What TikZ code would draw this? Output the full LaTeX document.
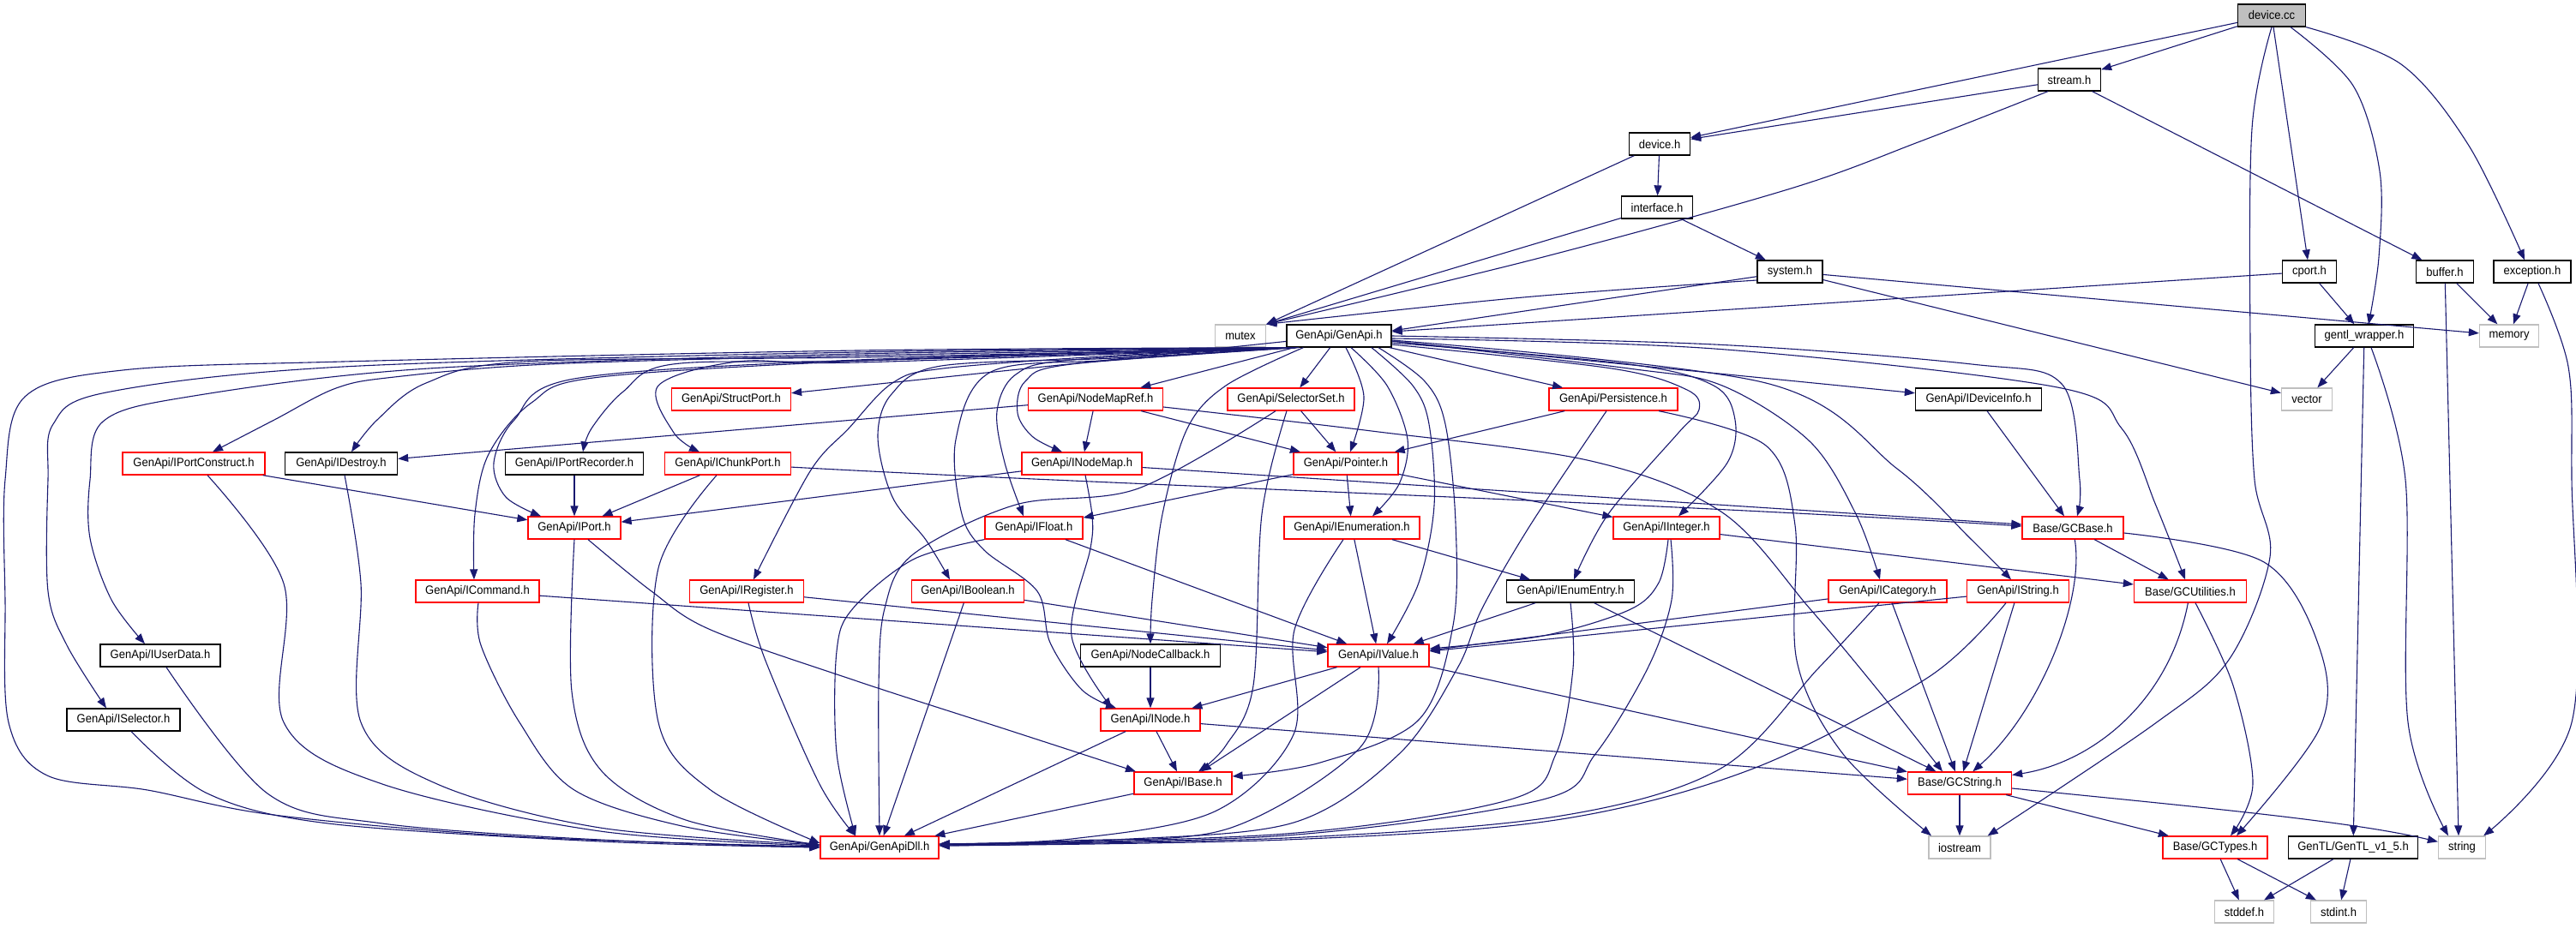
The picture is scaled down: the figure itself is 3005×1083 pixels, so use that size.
\documentclass[tikz,border=0pt]{standalone}
\usepackage{fontspec}
\setmainfont{Liberation Sans}[FakeStretch=0.93]
\usetikzlibrary{arrows.meta}
\definecolor{gvblue}{HTML}{191970}
\definecolor{gvred}{HTML}{FF0000}
\definecolor{gvgray}{HTML}{BFBFBF}
\newcommand\dgfont{\fontsize{14pt}{16pt}\selectfont}
\begin{document}
\begin{tikzpicture}[x=1pt,y=-1pt,
  nb/.style={draw=black, line width=1.3pt, minimum height=26pt, inner xsep=1pt, inner ysep=0pt, font=\dgfont, fill=white},
  nr/.style={nb, draw=gvred},
  ng/.style={nb, draw=gvgray},
  e/.style={draw=gvblue, line width=1.1pt, -{Triangle[length=12pt,width=9pt]}},
  sm/.style={smooth, tension=0.55}]
\fill[white] (0,0) rectangle (3005,1083);
\useasboundingbox (0,0) rectangle (3005,1083);
% nodes
\node[nb,fill=gvgray,minimum width=79pt] (dcc) at (2650,18) {device.cc};
\node[nb,minimum width=73pt] (stream) at (2414,93) {stream.h};
\node[nb,minimum width=71pt] (deviceh) at (1936,168) {device.h};
\node[nb,minimum width=83pt] (interface) at (1933,242) {interface.h};
\node[nb,minimum width=76pt] (system) at (2088,317) {system.h};
\node[nb,minimum width=63pt] (cport) at (2694,317) {cport.h};
\node[nb,minimum width=67pt] (buffer) at (2852,317) {buffer.h};
\node[nb,minimum width=90pt] (exception) at (2954,317) {exception.h};
\node[ng,minimum width=59pt] (mutex) at (1447,392) {mutex};
\node[nb,minimum width=122pt] (genapi) at (1562,392) {GenApi/GenApi.h};
\node[nb,minimum width=115pt] (gentlw) at (2758,392) {gentl\_wrapper.h};
\node[ng,minimum width=69pt] (memory) at (2927,392) {memory};
\node[nr,minimum width=139pt] (structport) at (853,466) {GenApi/StructPort.h};
\node[nr,minimum width=157pt] (nodemapref) at (1278,466) {GenApi/NodeMapRef.h};
\node[nr,minimum width=148pt] (selectorset) at (1506,466) {GenApi/SelectorSet.h};
\node[nr,minimum width=150pt] (persistence) at (1882,466) {GenApi/Persistence.h};
\node[nb,minimum width=147pt] (ideviceinfo) at (2308,466) {GenApi/IDeviceInfo.h};
\node[ng,minimum width=59pt] (vector) at (2691,466) {vector};
\node[nr,minimum width=166pt] (iportconstruct) at (226,541) {GenApi/IPortConstruct.h};
\node[nb,minimum width=131pt] (idestroy) at (398,541) {GenApi/IDestroy.h};
\node[nb,minimum width=161pt] (iportrecorder) at (670,541) {GenApi/IPortRecorder.h};
\node[nr,minimum width=147pt] (ichunkport) at (849,541) {GenApi/IChunkPort.h};
\node[nr,minimum width=140pt] (inodemap) at (1262,541) {GenApi/INodeMap.h};
\node[nr,minimum width=122pt] (pointer) at (1570,541) {GenApi/Pointer.h};
\node[nr,minimum width=108pt] (iport) at (670,616) {GenApi/IPort.h};
\node[nr,minimum width=114pt] (ifloat) at (1206,616) {GenApi/IFloat.h};
\node[nr,minimum width=158pt] (ienumeration) at (1577,616) {GenApi/IEnumeration.h};
\node[nr,minimum width=124pt] (iinteger) at (1944,616) {GenApi/IInteger.h};
\node[nr,minimum width=118pt] (gcbase) at (2418,616) {Base/GCBase.h};
\node[nr,minimum width=144pt] (icommand) at (557,690) {GenApi/ICommand.h};
\node[nr,minimum width=133pt] (iregister) at (871,690) {GenApi/IRegister.h};
\node[nr,minimum width=131pt] (iboolean) at (1129,690) {GenApi/IBoolean.h};
\node[nb,minimum width=149pt] (ienumentry) at (1832,690) {GenApi/IEnumEntry.h};
\node[nr,minimum width=138pt] (icategory) at (2202,690) {GenApi/ICategory.h};
\node[nr,minimum width=119pt] (istring) at (2354,690) {GenApi/IString.h};
\node[nr,minimum width=131pt] (gcutilities) at (2555,690) {Base/GCUtilities.h};
\node[nb,minimum width=140pt] (iuserdata) at (187,765) {GenApi/IUserData.h};
\node[nb,minimum width=163pt] (nodecallback) at (1342,765) {GenApi/NodeCallback.h};
\node[nr,minimum width=118pt] (ivalue) at (1608,765) {GenApi/IValue.h};
\node[nb,minimum width=132pt] (iselector) at (144,840) {GenApi/ISelector.h};
\node[nr,minimum width=116pt] (inode) at (1342,840) {GenApi/INode.h};
\node[nr,minimum width=114pt] (ibase) at (1380,914) {GenApi/IBase.h};
\node[nr,minimum width=121pt] (gcstring) at (2286,914) {Base/GCString.h};
\node[nr,minimum width=138pt] (genapidll) at (1026,989) {GenApi/GenApiDll.h};
\node[ng,minimum width=72pt] (iostream) at (2286,989) {iostream};
\node[nr,minimum width=122pt] (gctypes) at (2584,989) {Base/GCTypes.h};
\node[nb,minimum width=151pt] (gentl15) at (2745,989) {GenTL/GenTL\_v1\_5.h};
\node[ng,minimum width=55pt] (string) at (2872,989) {string};
\node[ng,minimum width=69pt] (stddef) at (2618,1064) {stddef.h};
\node[ng,minimum width=65pt] (stdint) at (2728,1064) {stdint.h};

% ---- straight edges
\draw[e] (dcc) -- (stream);
\draw[e] (dcc) -- (deviceh);
\draw[e] (dcc) -- (cport);
\draw[e] (stream) -- (deviceh);
\draw[e] plot[sm] coordinates {([xshift=-25pt]stream.south) (2240,165) (2089,220) (1800,300) (mutex.north east)};
\draw[e] (stream) -- (buffer);
\draw[e] (deviceh) -- (interface);
\draw[e] (deviceh) -- (mutex.north east);
\draw[e] (interface) -- (mutex.north east);
\draw[e] (interface) -- (system);
\draw[e] (system) -- ([yshift=6pt]genapi.east);
\draw[e] (system) -- (memory);
\draw[e] (system) -- (vector);
\draw[e] (cport) -- ([yshift=5pt]genapi.east);
\draw[e] (cport) -- (gentlw);
\draw[e] (buffer) -- (memory);
\draw[e] (buffer) -- ([xshift=-4pt]string.north);
\draw[e] (exception) -- (memory);
\draw[e] (gentlw) -- (vector);
\draw[e] (gentlw) -- (gentl15);
\draw[e] (gentl15) -- (stddef);
\draw[e] (gentl15) -- (stdint);
\draw[e] (gctypes) -- (stddef);
\draw[e] (gctypes) -- (stdint);
\draw[e] (gcstring) -- (iostream);
\draw[e] (gcstring) -- (gctypes);
\draw[e] (gcbase) -- (gcutilities);
\draw[e] (icategory) -- ([yshift=6pt]ivalue.east);
\draw[e] (icategory) -- (gcstring);
\draw[e] (istring) -- ([yshift=5pt]ivalue.east);
\draw[e] (istring) -- (gcstring);
\draw[e] (iinteger) -- (gcutilities);
\draw[e] (ienumentry) -- (ivalue);
\draw[e] (ienumentry) -- (gcstring);
\draw[e] (ienumeration) -- (ivalue);
\draw[e] (ienumeration) -- (ienumentry);
\draw[e] (pointer) -- (ifloat);
\draw[e] (pointer) -- (ienumeration);
\draw[e] (pointer) -- (iinteger);
\draw[e] (ifloat) -- (ivalue);
\draw[e] (iboolean) -- (ivalue);
\draw[e] (iboolean) -- (genapidll);
\draw[e] (icommand) -- (ivalue);
\draw[e] (iregister) -- (ivalue);
\draw[e] (iportconstruct) -- (iport);
\draw[e] (iportrecorder) -- (iport);
\draw[e] (ichunkport) -- (iport);
\draw[e] (inodemap) -- (iport);
\draw[e] (inodemap) -- ([yshift=4pt]gcbase.west);
\draw[e] (ichunkport) .. controls (1300,566) and (1900,585) .. ([yshift=2pt]gcbase.west);
\draw[e] (nodemapref) -- (idestroy);
\draw[e] (nodemapref) -- (inodemap);
\draw[e] (nodemapref) -- (pointer);
\draw[e] (selectorset) -- (pointer);
\draw[e] (persistence) -- (pointer);
\draw[e] (ideviceinfo) -- (gcbase);
\draw[e] (ivalue) -- (inode);
\draw[e] (ivalue) -- (ibase);
\draw[e] (ivalue) -- (gcstring);
\draw[e] (nodecallback) -- (inode);
\draw[e] (inode) -- (ibase);
\draw[e] (inode) -- (genapidll);
\draw[e] (inode) -- (gcstring);
\draw[e] (ibase) -- (genapidll);
\draw[e] (genapi) -- (nodemapref);
\draw[e] (genapi) -- (selectorset);
\draw[e] (genapi) -- (persistence);
\draw[e] (genapi) -- (ideviceinfo);
\draw[e] (genapi) -- (structport);
\draw[e] (gcstring) .. controls (2600,945) and (2750,960) .. (string);

% ---- curved edges (upper right)
\draw[e] plot[sm] coordinates {(dcc.south) (2627,150) (2625,400) (2630,560) (2648,650) (2600,770) (2513,845) ([xshift=-4pt]iostream.north east)};
\draw[e] plot[sm] coordinates {([xshift=22pt]dcc.south) (2745,100) (2776,200) (2775,300) ([xshift=5pt]gentlw.north)};
\draw[e] plot[sm] coordinates {(dcc.south east) (2801,75) (2880,170) ([xshift=-9pt]exception.north)};
\draw[e] plot[sm] coordinates {([yshift=-10pt]system.west) (1777,347) (mutex.north east)};
\draw[e] plot[sm] coordinates {([xshift=7pt]exception.south) (2996,428) (3000,560) (3000,843) ([xshift=-3pt]string.north east)};
\draw[e] plot[sm] coordinates {([xshift=8pt]gentlw.south) (2806,560) (2809,843) ([xshift=-16pt]string.north)};
\draw[e] (gcbase) .. controls (2432,700) and (2380,830) .. (gcstring);
\draw[e] plot[sm] coordinates {([yshift=-6pt]gcbase.east) (2641,656) (2706,757) (2706,850) ([xshift=25pt]gctypes.north)};
\draw[e] (gcutilities) .. controls (2530,820) and (2440,890) .. (gcstring);
\draw[e] plot[sm] coordinates {([xshift=6pt]gcutilities.south) (2605,800) (2628,915) ([xshift=18pt]gctypes.north)};

% ---- GenApi.h fan to the right
\draw[e] plot[sm] coordinates {(genapi.east) (2000,402) (2300,425) (2405,448) (2426,560) ([xshift=5pt]gcbase.north)};
\draw[e] plot[sm] coordinates {([yshift=-3pt]genapi.east) (2000,407) (2400,452) (2475,500) (2515,590) ([xshift=-6pt]gcutilities.north)};
\draw[e] plot[sm] coordinates {([yshift=-6pt]genapi.east) (1900,430) (2009,450) (2111,515) (2165,600) ([xshift=-9pt]icategory.north)};
\draw[e] plot[sm] coordinates {([yshift=-5pt]genapi.east) (2060,447) (2213,547) (2300,630) ([xshift=-8pt]istring.north)};
\draw[e] plot[sm] coordinates {([yshift=-8pt]genapi.east) (1900,425) (1999,450) (2024,490) (2015,540) ([xshift=14pt]iinteger.north)};
\draw[e] plot[sm] coordinates {([yshift=-10pt]genapi.east) (1880,430) (1968,455) (1982,478) (1958,505) (1876,600) ([xshift=4pt]ienumentry.north)};
\draw[e] plot[sm] coordinates {([xshift=8pt]genapi.south) (1591,463) ([xshift=5pt]pointer.north)};
\draw[e] plot[sm] coordinates {([xshift=14pt]genapi.south) (1618,450) (1642,513) (1632,565) ([xshift=24pt]ienumeration.north)};
\draw[e] plot[sm] coordinates {([xshift=38pt]genapi.south) (1648,450) (1667,495) (1673,590) (1655,680) ([xshift=10pt]ivalue.north)};
\draw[e] plot[sm] coordinates {([xshift=46pt]genapi.south) (1662,445) (1686,495) (1698,610) (1695,730) (1655,840) (1540,890) ([yshift=8pt]ibase.east)};

% ---- GenApi.h fan to the left
\draw[e] plot[sm] coordinates {(genapi.south west) (1000,409) (400,422) (143,432) (29,463) (6,560) (6,700) (10,843) (55,905) (172,922) (319,951) (600,976) (genapidll.west)};
\draw[e] plot[sm] coordinates {([xshift=3pt]genapi.south west) (1000,411) (400,428) (124,458) (62,495) (56,560) (56,690) (78,753) ([xshift=-20pt]iselector.north)};
\draw[e] plot[sm] coordinates {([xshift=6pt]genapi.south west) (1000,413) (500,430) (220,463) (120,492) (105,560) (105,628) (130,700) ([xshift=-18pt]iuserdata.north)};
\draw[e] plot[sm] coordinates {([xshift=9pt]genapi.south west) (1000,415) (640,425) (460,440) (392,453) (320,490) ([xshift=22pt]iportconstruct.north)};
\draw[e] plot[sm] coordinates {([xshift=12pt]genapi.south west) (1000,417) (612,422) (497,447) (440,490) ([xshift=12pt]idestroy.north)};
\draw[e] plot[sm] coordinates {([xshift=12pt]genapi.south west) (1052,419) (700,440) (620,470) (570,530) (554,600) ([xshift=-4pt]icommand.north)};
\draw[e] plot[sm] coordinates {([xshift=12pt]genapi.south west) (1000,420) (670,442) (600,490) (576,540) (590,580) ([xshift=-39pt]iport.north)};
\draw[e] plot[sm] coordinates {([xshift=12pt]genapi.south west) (1000,421) (785,425) (727,457) (690,500) ([xshift=10pt]iportrecorder.north)};
\draw[e] plot[sm] coordinates {([xshift=12pt]genapi.south west) (1000,423) (861,422) (768,450) (786,505) ([xshift=-33pt]ichunkport.north)};
\draw[e] plot[sm] coordinates {([xshift=4pt]genapi.south west) (1300,415) (1100,430) (1041,447) (990,500) (945,550) ([xshift=8pt]iregister.north)};
\draw[e] plot[sm] coordinates {([xshift=5pt]genapi.south west) (1300,418) (1098,427) (1040,460) (1024,510) (1041,580) (1080,630) ([xshift=-21pt]iboolean.north)};
\draw[e] plot[sm] coordinates {([xshift=10pt]genapi.south west) (1250,420) (1185,437) (1163,480) (1172,540) ([xshift=-12pt]ifloat.north)};
\draw[e] plot[sm] coordinates {([xshift=15pt]genapi.south west) (1250,425) (1196,445) (1187,482) (1205,510) ([xshift=-23pt]inodemap.north)};
\draw[e] plot[sm] coordinates {([xshift=8pt]genapi.south west) (1300,420) (1156,434) (1115,513) (1122,600) (1148,642) (1210,690) (1225,750) (1262,805) ([xshift=-40pt]inode.north)};
\draw[e] plot[sm] coordinates {([xshift=20pt]genapi.south west) (1430,450) (1385,500) (1356,600) (1344,700) (nodecallback.north)};

% ---- middle curves
\draw[e] plot[sm] coordinates {([yshift=-9pt]nodemapref.east) (1600,503) (1856,538) (2009,598) (2111,710) (2192,807) ([xshift=-20pt]gcstring.north)};
\draw[e] plot[sm] coordinates {([xshift=-8pt]persistence.south) (1785,613) (1729,710) (1700,780) (1632,880) (1509,960) (1300,980) ([yshift=4pt]genapidll.east)};
\draw[e] plot[sm] coordinates {([xshift=53pt]persistence.south) (2060,520) (2094,613) (2096,771) (2150,880) ([xshift=-33pt]iostream.north)};
\draw[e] plot[sm] coordinates {([xshift=-18pt]selectorset.south) (1328,570) (1185,589) (1065,647) (1032,710) (1025,800) (genapidll.north)};
\draw[e] plot[sm] coordinates {([xshift=-5pt]selectorset.south) (1472,600) (1462,800) (1430,870) ([xshift=18pt]ibase.north)};
\draw[e] plot[sm] coordinates {([xshift=16pt]iport.south) (760,690) (829,735) (1000,795) (1170,850) ([xshift=-55pt]ibase.north)};
\draw[e] plot[sm] coordinates {(ifloat.south west) (1065,653) (995,710) (976,760) (976,879) ([xshift=-28pt]genapidll.north)};
\draw[e] plot[sm] coordinates {([xshift=4pt]inodemap.south) (1274,602) (1272,640) (1250,742) ([xshift=-45pt]inode.north)};
\draw[e] plot[sm] coordinates {([xshift=2pt]iinteger.south) (1935,680) (1900,712) (1800,742) ([yshift=8pt]ivalue.east)};

% ---- into GenApiDll from the right
\draw[e] plot[sm] coordinates {([xshift=-10pt]ienumeration.south) (1510,735) (1509,857) (1417,947) (1250,979) ([yshift=4pt]genapidll.east)};
\draw[e] plot[sm] coordinates {(ivalue.south) (1586,873) (1433,967) (1250,981) ([yshift=4pt]genapidll.east)};
\draw[e] plot[sm] coordinates {([xshift=5pt]iinteger.south) (1950,700) (1922,780) (1861,880) (1800,933) (1500,975) ([yshift=3pt]genapidll.east)};
\draw[e] plot[sm] coordinates {(ienumentry.south) (1835,780) (1815,880) (1762,933) (1500,973) ([yshift=3pt]genapidll.east)};
\draw[e] plot[sm] coordinates {([xshift=-10pt]icategory.south) (2121,780) (2007,897) (1815,953) (1500,978) ([yshift=2pt]genapidll.east)};
\draw[e] plot[sm] coordinates {([xshift=-14pt]istring.south) (2250,790) (2045,897) (1815,957) (1500,980) ([yshift=2pt]genapidll.east)};

% ---- into GenApiDll from the left
\draw[e] plot[sm] coordinates {([xshift=1pt]icommand.south) (561,753) (606,843) (670,922) (800,965) ([yshift=3pt]genapidll.west)};
\draw[e] plot[sm] coordinates {([xshift=2pt]iregister.south) (893,771) (956,915) ([xshift=-28pt]genapidll.north)};
\draw[e] plot[sm] coordinates {(iport.south) (667,807) (702,900) (800,957) ([yshift=3pt]genapidll.west)};
\draw[e] plot[sm] coordinates {([xshift=16pt]iportconstruct.south) (331,681) (331,843) (446,915) (700,970) ([yshift=2pt]genapidll.west)};
\draw[e] plot[sm] coordinates {([xshift=4pt]idestroy.south) (421,681) (421,843) (510,915) (700,966) ([yshift=3pt]genapidll.west)};
\draw[e] plot[sm] coordinates {([xshift=-13pt]ichunkport.south) (768,663) (768,843) (829,922) ([yshift=5pt]genapidll.west)};
\draw[e] plot[sm] coordinates {([xshift=7pt]iuserdata.south) (312,926) (446,961) (700,980) ([yshift=1pt]genapidll.west)};
\draw[e] plot[sm] coordinates {([xshift=9pt]iselector.south) (242,926) (383,961) (700,982) (genapidll.west)};
\end{tikzpicture}
\end{document}
